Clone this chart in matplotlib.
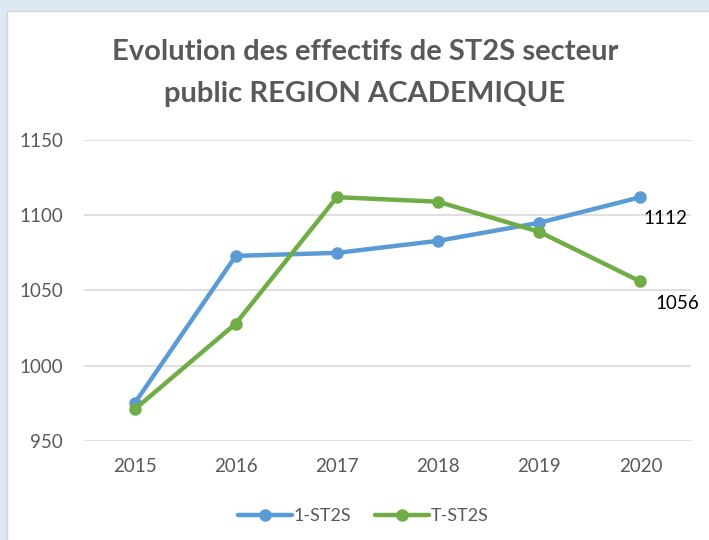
import matplotlib.pyplot as plt
from matplotlib.patches import Rectangle

years = ["2015", "2016", "2017", "2018", "2019", "2020"]
premiere_st2s = [975, 1073, 1075, 1083, 1095, 1112]
terminale_st2s = [971, 1028, 1112, 1109, 1089, 1056]
series_names = ["1-ST2S", "T-ST2S"]
y_ticks = [950, 1000, 1050, 1100, 1150]

W, H = 709, 540
fig = plt.figure(figsize=(W / 100, H / 100), dpi=100)
fig.patch.set_facecolor("#dee8f4")

# white chart area with a thin grey frame
panel = Rectangle((7 / W, -0.01), 1, 1 - 11 / H + 0.01, transform=fig.transFigure,
                  facecolor="white", edgecolor="#d4d4d4", linewidth=1.0, zorder=-10)
fig.patches.append(panel)

left, right, top, bottom = 84, 691, 140, 441
ax = fig.add_axes([left / W, 1 - bottom / H, (right - left) / W, (bottom - top) / H])
ax.set_facecolor("none")
ax.set_zorder(5)

font = "Lato"
grey = "#595959"
blue = "#5b9bd5"
green = "#70ad47"

x = list(range(len(years)))
ax.plot(x, premiere_st2s, color=blue, lw=3.2, marker="o", ms=8, label=series_names[0],
        solid_capstyle="round", zorder=3)
ax.plot(x, terminale_st2s, color=green, lw=3.2, marker="o", ms=8, label=series_names[1],
        solid_capstyle="round", zorder=3)

ax.set_xlim(-0.5, len(years) - 0.5)
ax.set_ylim(950, 1150)
ax.set_yticks(y_ticks)
ax.set_xticks(x)
ax.set_xticklabels(years)
ax.grid(axis="y", color="#d9d9d9", lw=1.2)
ax.set_axisbelow(True)
for s in ax.spines.values():
    s.set_visible(False)
ax.tick_params(length=0, labelsize=13.5, labelcolor=grey)
ax.tick_params(axis="y", pad=15)
ax.tick_params(axis="x", pad=12)
for lab in ax.get_xticklabels() + ax.get_yticklabels():
    lab.set_fontfamily(font)

# value labels on the last point of each series
ax.annotate(f"{premiere_st2s[-1]}", (x[-1], premiere_st2s[-1]), xytext=(25, -21),
            textcoords="offset pixels", ha="center", va="center",
            fontsize=13.5, color="black", family=font)
ax.annotate(f"{terminale_st2s[-1]}", (x[-1], terminale_st2s[-1]), xytext=(37, -22),
            textcoords="offset pixels", ha="center", va="center",
            fontsize=13.5, color="black", family=font)

fig.text(365 / W, 1 - 73 / H, "Evolution des effectifs de ST2S secteur\npublic REGION ACADEMIQUE",
         ha="center", va="center", fontsize=21, fontweight="bold", color=grey,
         family=font, linespacing=1.75)

leg = fig.legend(loc="center", bbox_to_anchor=(363 / W, 1 - 516 / H), ncol=2, frameon=False,
                 prop={"family": font, "size": 13}, handlelength=3.0, handletextpad=0.1,
                 columnspacing=1.3)
for t in leg.get_texts():
    t.set_color(grey)

fig.savefig("out.png", dpi=100, facecolor=fig.get_facecolor())
